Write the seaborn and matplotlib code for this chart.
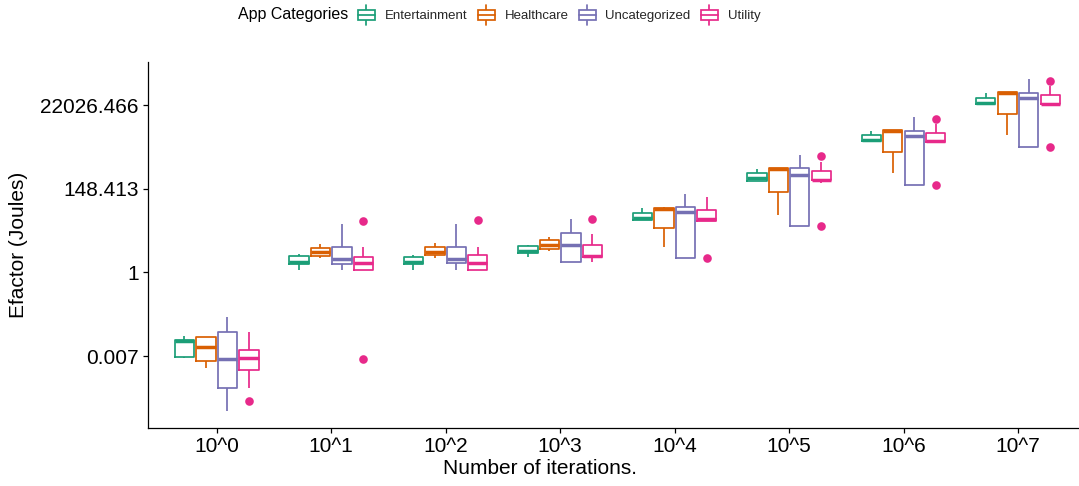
import numpy as np
import pandas as pd
import matplotlib
matplotlib.use("Agg")
import matplotlib.pyplot as plt
import seaborn as sns
from matplotlib.legend_handler import HandlerBase
from matplotlib.patches import Rectangle
from matplotlib.lines import Line2D

# ---------------- data (natural log of Efactor in Joules) ----
iterations = ["10^0", "10^1", "10^2", "10^3", "10^4", "10^5", "10^6", "10^7"]
categories = ["Entertainment", "Healthcare", "Uncategorized", "Utility"]
colors = ["#1B9E77", "#D95F02", "#7570B3", "#E7298A"]

ent_lo  = [-5.12, 0.15, 0.15, 0.95, 3.14, 5.50, 7.89, 10.07]
ent_q1  = [-5.08, 0.49, 0.49, 1.19, 3.14, 5.50, 7.89, 10.07]
ent_med = [-4.08, 0.63, 0.63, 1.26, 3.25, 5.64, 7.93, 10.15]
ent_q3  = [-4.04, 0.97, 0.95, 1.59, 3.58, 5.94, 8.23, 10.43]
ent_hi  = [-3.80, 1.09, 1.07, 1.65, 3.84, 6.20, 8.47, 10.73]

hea_lo  = [-5.74, 0.85, 0.85, 1.31, 1.54, 3.44, 5.94, 8.23]
hea_q1  = [-5.30, 1.01, 1.03, 1.41, 2.68, 4.84, 7.22, 9.49]
hea_med = [-4.48, 1.23, 1.23, 1.65, 3.82, 6.22, 8.47, 10.75]
hea_q3  = [-3.86, 1.49, 1.54, 1.93, 3.89, 6.28, 8.53, 10.79]
hea_hi  = [-3.86, 1.71, 1.75, 2.14, 3.90, 6.28, 8.53, 10.79]

unc_lo  = [-8.29, 0.15, 0.15, 0.61, 0.85, 2.78, 5.22, 7.53]
unc_q1  = [-6.93, 0.49, 0.57, 0.61, 0.85, 2.78, 5.22, 7.53]
unc_med = [-5.18, 0.83, 0.83, 1.63, 3.60, 5.84, 8.17, 10.43]
unc_q3  = [-3.58, 1.54, 1.54, 2.35, 3.94, 6.24, 8.49, 10.77]
unc_hi  = [-2.65, 2.89, 2.90, 3.20, 4.68, 7.02, 9.29, 11.57]

uti_lo  = [-6.93, 0.13, 0.13, 0.61, 3.10, 5.34, 7.80, 10.06]
uti_q1  = [-5.84, 0.13, 0.13, 0.91, 3.10, 5.55, 7.80, 10.06]
uti_med = [-5.14, 0.55, 0.59, 0.99, 3.19, 5.56, 7.87, 10.09]
uti_q3  = [-4.66, 0.95, 1.05, 1.66, 3.72, 6.10, 8.35, 10.60]
uti_hi  = [-3.54, 1.51, 1.51, 2.31, 4.50, 6.63, 8.89, 11.17]

ent_out = [[], [], [], [], [], [], [], []]
hea_out = [[], [], [], [], [], [], [], []]
unc_out = [[], [], [], [], [], [], [], []]
uti_out = [[-7.70], [3.07, -5.20], [3.14], [3.19], [0.85], [6.95, 2.77], [9.22, 5.24], [11.45, 7.53]]

y_ticks = [-5, 0, 5, 10]
y_tick_labels = ["0.007", "1", "148.413", "22026.466"]

# ---------------- build observations reproducing each box summary ------------
summaries = {
    "Entertainment": (ent_lo, ent_q1, ent_med, ent_q3, ent_hi, ent_out),
    "Healthcare": (hea_lo, hea_q1, hea_med, hea_q3, hea_hi, hea_out),
    "Uncategorized": (unc_lo, unc_q1, unc_med, unc_q3, unc_hi, unc_out),
    "Utility": (uti_lo, uti_q1, uti_med, uti_q3, uti_hi, uti_out),
}
rows = []
for cat, (lo, q1, med, q3, hi, outs) in summaries.items():
    for i, it in enumerate(iterations):
        o_lo = [o for o in outs[i] if o < q1[i]]
        o_hi = [o for o in outs[i] if o > q3[i]]
        lower = [o_lo[0], lo[i]] if o_lo else [lo[i], q1[i]]
        upper = [hi[i], o_hi[0]] if o_hi else [q3[i], hi[i]]
        vals = lower + [q1[i], med[i], med[i], med[i], q3[i]] + upper
        for v in vals:
            rows.append({"iteration": it, "category": cat, "ln_efactor": v})
df = pd.DataFrame(rows)

# ---------------- style ------------------------------------------------------
sns.set_theme(style="ticks")
plt.rcParams["font.family"] = ["Liberation Sans", "DejaVu Sans"]
leg_title_size = 11.5
leg_text_size = 9.5

W, H = 1079, 486
fig = plt.figure(figsize=(W / 100, H / 100), dpi=100)
left, right, bottom, top = 148, 1086.7, 427.7, 62
ax = fig.add_axes([left / W, 1 - bottom / H, (right - left) / W, (bottom - top) / H])

LW = 1.25
sns.boxplot(
    data=df, x="iteration", y="ln_efactor", hue="category",
    order=iterations, hue_order=categories, palette=colors, saturation=1,
    fill=False, width=0.75, gap=0.1, linewidth=LW, whis=1.5,
    showcaps=False, fliersize=6,
    medianprops={"linewidth": 2.5},
    legend=False, ax=ax,
)
for ln in ax.lines:
    m = ln.get_marker()
    if m not in (None, "", "None", " "):
        ln.set_markerfacecolor(ln.get_markeredgecolor())
        ln.set_markeredgewidth(0)
        ln.set_markersize(6.2)

ax.set_xlim(-0.6, 7.6)
ax.set_ylim((272.5 - 427.7) / 16.7, (272.5 - 62) / 16.7)
ax.set_yticks(y_ticks)
ax.set_yticklabels(y_tick_labels)
ax.set_xlabel("")
ax.set_ylabel("")
for s in ["top", "right"]:
    ax.spines[s].set_visible(False)
for s in ["left", "bottom"]:
    ax.spines[s].set_color("black")
    ax.spines[s].set_linewidth(0.9)
ax.tick_params(axis="both", length=3.6, width=0.9, color="black",
               labelsize=15, labelcolor="black", pad=3)

fig.text(540 / W, 1 - 468 / H, "Number of iterations.", ha="center", va="center",
         fontsize=15, color="black")
fig.text(19 / W, 1 - 245 / H, "Efactor (Joules)", ha="center", va="center",
         rotation=90, fontsize=15, color="black")

# ---------------- legend ------------------------------------------------------
class BoxHandler(HandlerBase):
    def create_artists(self, legend, orig_handle, xdescent, ydescent, width, height,
                       fontsize, trans):
        c = orig_handle.get_color()
        x0, y0 = -xdescent, -ydescent
        cx = x0 + width / 2
        b0, b1 = y0 + 0.24 * height, y0 + 0.76 * height
        return [
            Line2D([cx, cx], [y0, b0], color=c, lw=LW, transform=trans),
            Line2D([cx, cx], [b1, y0 + height], color=c, lw=LW, transform=trans),
            Rectangle((x0, b0), width, b1 - b0, facecolor="white", edgecolor=c,
                      lw=LW, transform=trans),
            Line2D([x0, x0 + width], [(b0 + b1) / 2] * 2, color=c, lw=LW,
                   transform=trans),
        ]

handles = [Line2D([], [], color=c) for c in colors]
fs_px = leg_text_size * 100 / 72
ycen = 1 - 15 / H
title = fig.text(0, ycen, "App Categories", ha="left", va="center",
                 fontsize=leg_title_size, color="black")
leg = fig.legend(
    handles, categories, handler_map={Line2D: BoxHandler()},
    loc="center left", bbox_to_anchor=(0, ycen), ncol=4,
    frameon=False, borderpad=0, borderaxespad=0,
    handlelength=17 / fs_px, handleheight=26 / fs_px,
    handletextpad=10 / fs_px, columnspacing=10 / fs_px,
    prop={"size": leg_text_size},
)
fig.canvas.draw()
r = fig.canvas.get_renderer()
tw = title.get_window_extent(r).width
lw_ = leg.get_window_extent(r).width
gap = 10
total = tw + gap + lw_
x_start = 499 - total / 2
title.set_x(x_start / W)
leg.set_bbox_to_anchor((( x_start + tw + gap) / W, ycen), transform=fig.transFigure)

fig.savefig("out.png", dpi=100)
